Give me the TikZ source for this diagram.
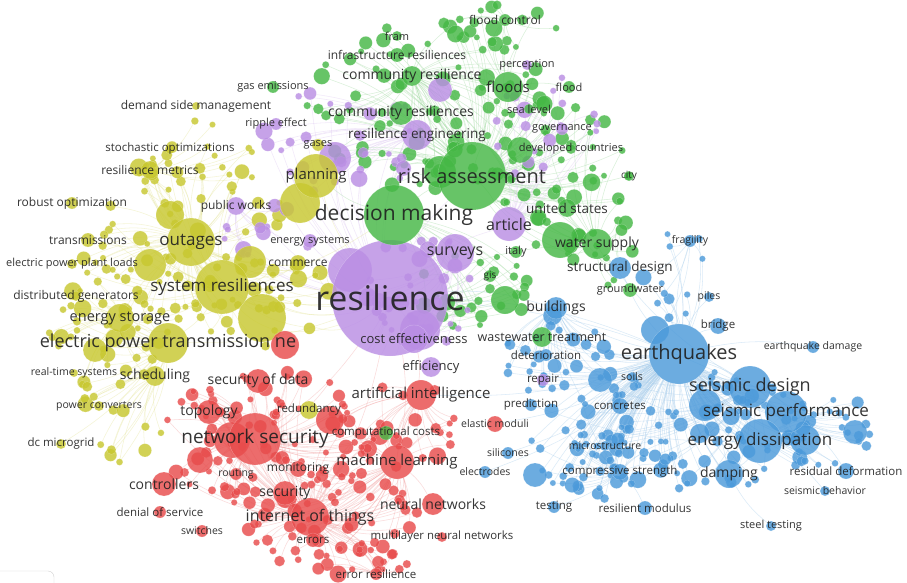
\documentclass[tikz,border=0pt]{standalone}
\usepackage{fontspec}
\setmainfont{Open Sans}
\definecolor{amarelo}{RGB}{200,200,48}
\definecolor{verde}{RGB}{70,184,70}
\definecolor{vermelho}{RGB}{232,76,76}
\definecolor{roxo}{RGB}{186,142,228}
\definecolor{azul}{RGB}{76,154,218}
\pgfdeclarelayer{arestas}
\pgfdeclarelayer{bolhas}
\pgfsetlayers{arestas,bolhas,main}
\tikzset{
    bolha/.style = {circle, inner sep=0pt, fill opacity=0.82, draw=white, draw opacity=0.35, line width=0.3pt},
    rot/.style   = {text=black!88, text opacity=0.9, inner sep=1pt},
    lig/.style   = {line width=0.55pt, draw opacity=0.4},
}
% nos com rotulo: nome/x/y/raio/cor/fonte/texto
\def\nos{res/390/298/58/roxo/34/resilience, dm/394/215/30/verde/21/decision making,
 ra/472/176/34/verde/20/risk assessment, fc/505/20/6/verde/12/flood control,
 fram/397/36/5/verde/11/fram, ir/397/55/7/verde/12/infrastructure resiliences,
 cr/412/76/10/verde/14/community resilience, ge/273/87/6/verde/11/gas emissions,
 perc/527/65/5/roxo/11/perception, fl/508/87/15/verde/15/floods,
 flood/569/87/6/verde/11/flood, crs/401/113/12/verde/14/community resiliences,
 sl/529/109/5/verde/11/sea level, gov/562/129/6/roxo/11/governance,
 re/417/135/15/roxo/13.5/resilience engineering, dc/571/149/5/verde/11/developed countries,
 city/629/176/5/verde/10/city, us/567/208/9/verde/13.5/united states,
 art/509/224/17/roxo/16/article, ws/597/244/15/verde/14/water supply,
 ital/516/252/6/verde/11/italy, gis/490/276/6/verde/10/gis,
 gw/630/290/7/verde/11/groundwater, surv/455/253/19/roxo/16/surveys,
 wt/542/337/10/verde/12.5/wastewater treatment, cost/414/339/14/roxo/13/cost effectiveness,
 eff/431/367/10/roxo/13/efficiency, rip/276/124/6/roxo/11/ripple effect,
 gases/318/145/6/amarelo/11/gases, es/310/241/7/roxo/11/energy systems,
 comm/298/263/8/amarelo/12/commerce, pw/236/206/9/roxo/12/public works,
 dsm/196/106/4/amarelo/12/demand side management, so/170/149/5/amarelo/11.5/stochastic optimizations,
 rm/150/170/9/amarelo/12/resilience metrics, plan/316/176/22/amarelo/15/planning,
 ro/72/203/6/amarelo/12/robust optimization, tr/88/240/7/amarelo/12/transmissions,
 out/191/242/24/amarelo/17/outages, epl/72/264/5/amarelo/11/electric power plant loads,
 sr/222/287/27/amarelo/17/system resiliences, dg/76/296/5/amarelo/12/distributed generators,
 est/120/318/14/amarelo/14.5/energy storage, ept/168/343/20/amarelo/18/electric power transmission ne,
 rts/74/373/4/amarelo/10.5/real-time systems, sch/155/376/10/amarelo/14/scheduling,
 pc/99/406/5/amarelo/10.5/power converters, dcm/61/444/5/amarelo/11.5/dc microgrid,
 sod/258/381/12/vermelho/14/security of data, top/209/412/12/vermelho/14/topology,
 red/309/410/9/amarelo/11.5/redundancy, ai/421/395/15/vermelho/15/artificial intelligence,
 ns/255/439/26/vermelho/19/network security, cc/386/433/7/verde/11.5/computational costs,
 mon/298/469/8/vermelho/12/monitoring, rout/236/474/6/vermelho/10.5/routing,
 ml/397/462/17/vermelho/15/machine learning, ctrl/164/484/12/vermelho/14/controllers,
 sec/285/493/12/vermelho/14/security, dos/160/512/6/vermelho/11.5/denial of service,
 iot/310/517/19/vermelho/16/internet of things, nn/433/504/11/vermelho/14/neural networks,
 sw/202/531/6/vermelho/10.5/switches, err/313/540/7/vermelho/11.5/errors,
 mnn/442/537/5/vermelho/11.4/multilayer neural networks, er/376/574/6/vermelho/11.5/error resilience,
 em/495/424/8/vermelho/10.5/elastic moduli, frag/690/241/6/azul/10.5/fragility,
 sd/620/268/11/azul/13.5/structural design, piles/709/297/5/azul/10.5/piles,
 bld/556/308/11/azul/14/buildings, bridge/718/326/8/azul/11.5/bridge,
 eq/679/354/30/azul/20/earthquakes, eqd/813/347/6/azul/10.5/earthquake damage,
 det/546/355/6/azul/11.5/deterioration, repair/543/380/6/roxo/11.5/repair,
 soils/632/377/5/azul/10.5/soils, sdes/750/387/21/azul/18/seismic design,
 pred/531/405/6/azul/11.5/prediction, conc/620/406/8/azul/11.5/concretes,
 sp/786/412/21/azul/17/seismic performance, ed/760/441/22/azul/17/energy dissipation,
 micro/605/446/5/azul/10.5/microstructure, sil/508/453/6/azul/10.5/silicones,
 elec/485/472/6/azul/10.5/electrodes, cs/620/472/8/azul/11.5/compressive strength,
 damp/729/474/14/azul/14/damping, rd/846/471/8/azul/11.5/residual deformation,
 sb/825/491/5/azul/10.5/seismic behavior, test/554/507/6/azul/11.5/testing,
 rmod/645/508/7/azul/11.5/resilient modulus, st/771/526/5/azul/11/steel testing}
% nuvens: cx/cy/sx/sy/quantidade/cor/no1/no2
\def\nuvens{190/250/110/90/80/amarelo/out/sr, 110/330/70/60/35/amarelo/est/ept,
 120/420/50/50/14/amarelo/sch/ept, 200/160/70/40/18/amarelo/rm/out,
 280/300/50/50/18/amarelo/sr/res, 270/440/110/70/90/vermelho/ns/iot,
 330/520/90/50/55/vermelho/iot/ml, 400/420/60/50/25/vermelho/ai/ml,
 360/560/50/20/15/vermelho/er/iot, 430/110/130/90/90/verde/ra/cr,
 560/180/70/80/38/verde/ra/ws, 470/290/60/40/25/verde/res/dm,
 610/250/40/40/14/verde/ws/sd, 500/30/60/25/15/verde/fc/fl,
 420/290/60/60/40/roxo/res/surv, 340/140/80/60/30/roxo/re/res,
 540/130/60/60/18/roxo/art/gov, 270/230/50/30/12/roxo/pw/res,
 700/430/120/60/90/azul/eq/sdes, 600/440/70/60/50/azul/eq/cs,
 560/360/60/50/30/azul/bld/eq, 830/430/40/40/18/azul/sp/ed,
 680/280/40/50/12/azul/eq/frag}

\begin{document}
\begin{tikzpicture}[x=1pt, y=-1pt]
    \useasboundingbox (0,0) rectangle (907,583);
    \begin{pgfonlayer}{bolhas}
        % bolhas pequenas
        \pgfmathsetseed{41}
        \foreach \cx/\cy/\sx/\sy/\n/\cor/\ha/\hb [count=\k] in \nuvens {
            \foreach \i in {1,...,\n}{
                \pgfmathsetmacro{\ang}{360*rnd}
                \pgfmathsetmacro{\dist}{sqrt(rnd)}
                \pgfmathsetmacro{\px}{\cx+\sx*\dist*cos(\ang)}
                \pgfmathsetmacro{\py}{\cy+\sy*\dist*sin(\ang)}
                \pgfmathsetmacro{\rr}{3+7*rnd*rnd}
                \node[bolha, fill=\cor, minimum size={2*\rr*1pt}] (b\k-\i) at (\px,\py) {};
            }
        }
        % bolhas grandes sem rotulo
        \foreach \x/\y/\r/\cor [count=\j] in {262/318/24/amarelo, 300/203/20/amarelo, 250/262/16/amarelo,
            150/265/16/amarelo, 285/345/14/vermelho, 232/440/18/vermelho, 560/240/18/verde,
            440/172/16/verde, 335/158/16/roxo, 505/300/14/verde, 440/90/12/roxo, 535/475/12/azul,
            655/330/14/azul, 705/405/16/azul, 805/440/15/azul, 350/270/22/roxo, 420/330/20/roxo,
            170/215/14/amarelo, 95/350/12/amarelo, 330/420/14/vermelho, 200/460/13/vermelho,
            520/150/13/verde, 600/380/12/azul, 855/432/12/azul}
            \node[bolha, fill=\cor, minimum size={2*\r*1pt}] (g\j) at (\x,\y) {};
        % nos principais
        \foreach \nome/\x/\y/\r/\cor/\f/\t in \nos
            \node[bolha, fill=\cor, minimum size={2*\r*1pt}] (\nome) at (\x,\y) {};
    \end{pgfonlayer}
    \begin{pgfonlayer}{arestas}
        \fill[white] (0,0) rectangle (907,583);
        % ligacoes das bolhas pequenas
        \foreach \cx/\cy/\sx/\sy/\n/\cor/\ha/\hb [count=\k] in \nuvens {
            \foreach \i in {1,...,\n}{
                \draw[lig, draw=\cor!50!white] (b\k-\i) to[bend left=12] (\ha);
                \ifodd\i \draw[lig, draw=\cor!50!white] (b\k-\i) to[bend right=12] (\hb); \fi
            }
        }
        % ligacoes entre nos principais
        \foreach \a/\b/\cor in {res/dm/roxo, res/ra/roxo, res/sr/amarelo, res/ept/amarelo, res/ns/vermelho,
            res/eq/azul, res/ai/vermelho, res/out/amarelo, res/plan/amarelo, res/surv/roxo, res/art/roxo,
            res/ml/vermelho, res/iot/vermelho, res/bld/azul, res/ws/verde, res/sdes/azul, dm/ra/verde,
            dm/plan/verde, ra/fl/verde, ra/cr/verde, ra/us/verde, ra/ws/verde, eq/sdes/azul, eq/sp/azul,
            eq/ed/azul, eq/bld/azul, eq/bridge/azul, eq/piles/azul, eq/sd/azul, eq/wt/azul, eq/frag/azul,
            eq/cs/azul, eq/damp/azul, eq/conc/azul, sdes/sp/azul, sp/ed/azul, ed/damp/azul, sp/rd/azul,
            ed/sb/azul, eq/eqd/azul, ns/iot/vermelho, ns/sec/vermelho, ns/top/vermelho, ns/sod/vermelho,
            ml/ai/vermelho, ml/nn/vermelho, iot/ml/vermelho, out/sr/amarelo, sr/ept/amarelo,
            est/ept/amarelo, out/rm/amarelo, out/tr/amarelo, sr/dg/amarelo, ept/pc/amarelo,
            ept/dcm/amarelo, ept/sch/amarelo, fl/fc/verde, fl/flood/verde, eq/ai/azul, sdes/ws/azul,
            ed/wt/azul, cs/test/azul, cs/rmod/azul, st/damp/azul, sd/ws/verde, dm/sr/amarelo,
            eq/em/azul, eq/sil/azul, eq/elec/azul, sdes/det/azul, ed/pred/azul, eq/repair/azul}
            \draw[lig, draw=\cor!50!white] (\a) to[bend left=10] (\b);
    \end{pgfonlayer}
    % resto de um painel no canto
    \draw[black!18, rounded corners=6pt] (0,571) -- (54,571) -- (54,590);
    % rotulos
    \foreach \nome/\x/\y/\r/\cor/\f/\t in \nos
        \node[rot, font=\fontsize{\f}{\f}\selectfont] (t-\nome) at (\nome) {\t};
\end{tikzpicture}
\end{document}
